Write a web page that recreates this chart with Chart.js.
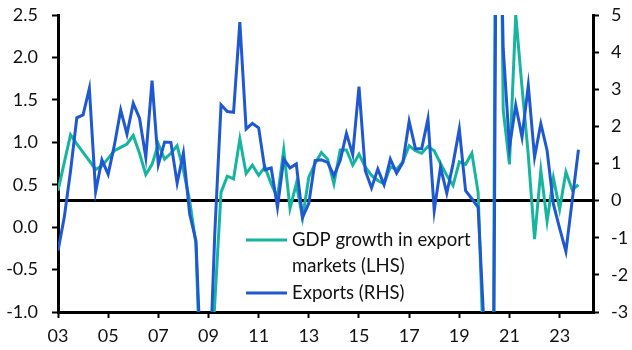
<!DOCTYPE html>
<html>
<head>
<meta charset="utf-8">
<script src="https://cdn.jsdelivr.net/npm/chart.js@4.4.1/dist/chart.umd.min.js"></script>
<style>
  html, body { margin: 0; padding: 0; background: #fff; }
</style>
</head>
<body>
<canvas id="chart" width="632" height="350"></canvas>
<script>
// === Data: quarterly, 2003 Q1 to 2023 Q4 ===
const firstYear = 2003;

// GDP growth in export markets, % q/q (left axis)
const gdpExportMarkets = [
  0.43, 0.76, 1.09, 0.98, 0.88, 0.78, 0.68, 0.72, 0.81, 0.90, 0.94, 0.98,
  1.08, 0.87, 0.62, 0.74, 0.98, 0.80, 0.87, 0.96, 0.67, 0.31, -0.20, -2.5,
  -2.2, -0.9, 0.41, 0.60, 0.57, 1.04, 0.63, 0.73, 0.61, 0.71, 0.51, 0.35,
  0.91, 0.22, 0.51, 0.11, 0.59, 0.75, 0.88, 0.80, 0.51, 0.91, 0.91, 0.73,
  0.86, 0.71, 0.61, 0.55, 0.51, 0.71, 0.68, 0.77, 0.96, 0.90, 0.87, 0.95,
  0.90, 0.75, 0.61, 0.49, 0.77, 0.74, 0.87, 0.41, -1.8, -9.0, 8.0, 1.38,
  0.74, 2.5, 1.65, 0.85, -0.14, 0.67, 0.07, 0.58, 0.21, 0.65, 0.44, 0.50
];

// Exports, % q/q (right axis)
const exportsGrowth = [
  -1.35, -0.45, 0.80, 2.23, 2.31, 3.02, 0.24, 1.10, 0.71, 1.50, 2.44, 1.79,
  2.62, 2.22, 1.17, 3.23, 0.97, 1.58, 1.57, 0.47, 1.28, -0.36, -1.08, -5.3,
  -5.5, -0.9, 2.58, 2.40, 2.38, 4.81, 1.93, 2.08, 1.96, 0.83, 0.88, -0.18,
  1.12, 0.88, 0.99, -0.45, -0.07, 1.08, 1.10, 1.03, 0.67, 1.08, 1.81, 1.24,
  3.07, 0.81, 0.34, 0.85, 0.43, 1.12, 0.74, 1.03, 2.14, 1.40, 1.40, 2.20,
  -0.27, 0.90, 0.20, 0.99, 1.93, 0.27, 0.05, -0.18, -3.6, -20.0, 12.0, 4.1,
  1.44, 2.57, 1.71, 3.10, 1.17, 2.07, 1.35, -0.09, -0.75, -1.37, 0.0, 1.37
];

const xTickYears = [2003, 2005, 2007, 2009, 2011, 2013, 2015, 2017, 2019, 2021, 2023];
const xTickLabels = ["03", "05", "07", "09", "11", "13", "15", "17", "19", "21", "23"];

const seriesNames = [["GDP growth in export", "markets (LHS)"], ["Exports (RHS)"]];
const tealColor = "#17b5a0";
const blueColor = "#1f58d0";

// quarter index -> year position on the x axis
const toPoints = (vals) => vals.map((v, i) => ({ x: firstYear + i / 4, y: v }));

// fixed axis box size, no extra label padding on top/bottom
const fixWidth = (w) => (s) => { s.width = w; s.paddingTop = 0; s.paddingBottom = 0; };

// === Legend drawn inside the plot ===
const innerLegend = {
  id: "innerLegend",
  afterDatasetsDraw(chart) {
    const ctx = chart.ctx;
    const items = [
      { color: tealColor, lines: seriesNames[0], y: 240 },
      { color: blueColor, lines: seriesNames[1], y: 293 }
    ];
    ctx.save();
    ctx.font = "18.5px Lato";
    ctx.fillStyle = "#111";
    ctx.textBaseline = "middle";
    ctx.textAlign = "left";
    items.forEach(it => {
      ctx.strokeStyle = it.color;
      ctx.lineWidth = 3;
      ctx.beginPath();
      ctx.moveTo(246, it.y);
      ctx.lineTo(287, it.y);
      ctx.stroke();
      it.lines.forEach((txt, k) => ctx.fillText(txt, 292, it.y + k * 26));
    });
    ctx.restore();
  }
};

Chart.defaults.font.family = "Lato";
Chart.defaults.font.size = 18;
Chart.defaults.color = "#111";

new Chart(document.getElementById("chart"), {
  type: "line",
  data: {
    datasets: [
      {
        data: toPoints(gdpExportMarkets),
        yAxisID: "y",
        borderColor: tealColor,
        borderWidth: 3,
        pointRadius: 0,
        tension: 0,
        clip: 0,
        order: 1
      },
      {
        data: toPoints(exportsGrowth),
        yAxisID: "y1",
        borderColor: blueColor,
        borderWidth: 3,
        pointRadius: 0,
        tension: 0,
        clip: 0,
        order: 0
      }
    ]
  },
  options: {
    responsive: false,
    animation: false,
    layout: { padding: { top: 15 } },
    plugins: {
      legend: { display: false },
      tooltip: { enabled: false }
    },
    scales: {
      x: {
        type: "linear",
        min: 2003,
        max: 2024.33,
        afterBuildTicks: (s) => { s.ticks = xTickYears.map(v => ({ value: v })); },
        afterFit: (s) => { s.height = 38; },
        ticks: {
          autoSkip: false,
          maxRotation: 0,
          padding: 7,
          callback: (v, i) => xTickLabels[i]
        },
        grid: { drawOnChartArea: false, tickLength: 6, tickColor: "#000", tickWidth: 2 },
        border: { color: "#000", width: 3 }
      },
      y: {
        position: "left",
        min: -1,
        max: 2.5,
        afterFit: fixWidth(58),
        ticks: { stepSize: 0.5, padding: 14, callback: (v) => v.toFixed(1) },
        grid: { drawOnChartArea: false, tickLength: 6, tickColor: "#000", tickWidth: 2 },
        border: { color: "#000", width: 3 }
      },
      y1: {
        position: "right",
        min: -3,
        max: 5,
        afterFit: fixWidth(39),
        ticks: { stepSize: 1, padding: 12 },
        // black zero line for the right-hand axis
        grid: {
          color: (c) => (c.tick && c.tick.value === 0 ? "#000" : "rgba(0,0,0,0)"),
          lineWidth: 3,
          tickLength: 6,
          tickColor: "#000",
          tickWidth: 2
        },
        border: { color: "#000", width: 3 }
      }
    }
  },
  plugins: [innerLegend]
});
</script>
</body>
</html>
